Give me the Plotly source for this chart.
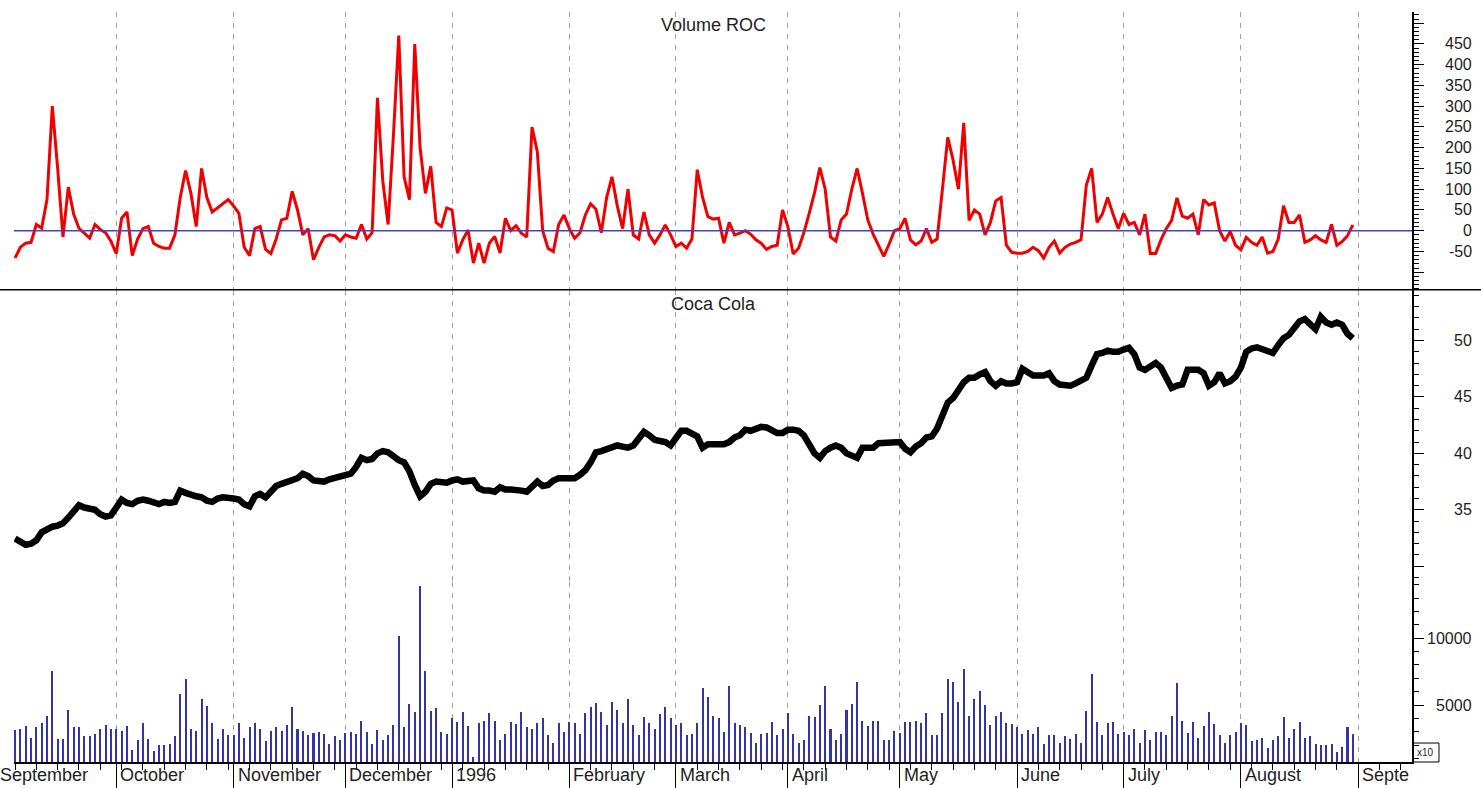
import plotly.graph_objects as go

# ---------------- data ----------------
month_labels = ["September", "October", "November", "December", "1996", "February",
                "March", "April", "May", "June", "July", "August", "Septe"]
month_start_idx = [-3.5, 19, 41, 62, 82, 104, 124, 145, 166, 188, 208, 230, 252]

roc = [
    -66, -40, -30, -28, 15, 6, 75, 300, 150, -15,
    105, 40, 6, -5, -18, 15, 3, -5, -25, -55,
    30, 45, -60, -20, 5, 10, -30, -38, -42, -42,
    -10, 80, 145, 90, 10, 150, 80, 45, 55, 65,
    75, 60, 42, -40, -60, 5, 10, -45, -55, -20,
    26, 30, 95, 50, -10, 5, -70, -40, -15, -10,
    -12, -25, -10, -15, -18, 15, -20, -5, 320, 120,
    15, 230, 470, 130, 75, 450, 200, 90, 155, 20,
    10, 55, 50, -54, -22, 2, -78, -30, -78, -30,
    -14, -54, 30, 0, 12, -6, -15, 250, 190, 0,
    -42, -50, 15, 38, 5, -18, -5, 38, 65, 52,
    -5, 80, 130, 60, 5, 100, -10, -20, 45, -10,
    -30, -10, 14, -10, -38, -30, -42, -20, 147, 80,
    34, 28, 30, -30, 20, -10, -6, 0, -8, -22,
    -30, -45, -38, -35, 50, 10, -56, -42, -5, 42,
    91, 152, 100, -15, -25, 26, 40, 100, 150, 90,
    26, -8, -35, -62, -32, 0, 5, 30, -22, -34,
    -25, 5, -28, -20, 100, 225, 170, 100, 260, 25,
    50, 40, -10, 20, 72, 80, -35, -52, -54, -54,
    -50, -40, -48, -66, -40, -25, -54, -40, -32, -28,
    -22, 110, 150, 20, 40, 80, 40, 5, 42, 15,
    20, -10, 40, -55, -55, -22, 5, 25, 79, 35,
    30, 40, -10, 75, 62, 67, 0, -25, -2, -35,
    -46, -16, -28, -35, -15, -54, -50, -20, 60, 20,
    20, 38, -28, -22, -12, -22, -28, 15, -35, -26,
    -12, 14,
]

price = [
    32.45, 32.1, 31.9, 32.0, 32.3, 33.0, 33.3, 33.5, 33.6, 33.8,
    34.3, 34.8, 35.4, 35.2, 35.1, 35.0, 34.6, 34.4, 34.5, 35.2,
    35.9, 35.6, 35.5, 35.8, 35.9, 35.8, 35.6, 35.5, 35.7, 35.6,
    35.7, 36.7, 36.5, 36.3, 36.2, 36.1, 35.8, 35.7, 36.0, 36.1,
    36.1, 36.0, 35.9, 35.5, 35.3, 36.2, 36.4, 36.1, 36.6, 37.1,
    37.3, 37.5, 37.6, 37.8, 38.2, 38.0, 37.6, 37.5, 37.5, 37.7,
    37.8, 38.0, 38.0, 38.2, 38.8, 39.6, 39.4, 39.5, 40.0, 40.2,
    40.1, 39.7, 39.4, 39.2, 38.4, 37.2, 36.2, 36.6, 37.3, 37.5,
    37.4, 37.4, 37.6, 37.7, 37.5, 37.5, 37.6, 36.9, 36.7, 36.7,
    36.6, 37.0, 36.8, 36.8, 36.8, 36.7, 36.6, 37.0, 37.5, 37.1,
    37.2, 37.6, 37.8, 37.8, 37.8, 37.8, 38.1, 38.5, 39.2, 40.1,
    40.2, 40.4, 40.6, 40.7, 40.6, 40.5, 40.7, 41.4, 41.9, 41.6,
    41.2, 41.1, 41.0, 40.7, 41.4, 42.0, 42.0, 41.8, 41.5, 40.5,
    40.8, 40.8, 40.8, 40.8, 41.0, 41.4, 41.6, 42.1, 42.0, 42.2,
    42.35, 42.3, 42.1, 41.8, 41.8, 42.1, 42.1, 42.0, 41.6, 40.8,
    40.0, 39.6, 40.2, 40.5, 40.7, 40.5, 40.0, 39.8, 39.6, 40.5,
    40.5, 40.5, 40.9, 40.9, 40.9, 40.9, 41.0, 40.4, 40.1, 40.6,
    40.9, 41.4, 41.5, 42.2, 43.2, 44.5, 44.9, 45.6, 46.3, 46.7,
    46.7, 47.0, 47.2, 46.4, 46.0, 46.4, 46.2, 46.2, 46.3, 47.5,
    47.2, 46.9, 46.9, 46.9, 47.1, 46.4, 46.1, 46.0, 46.0, 46.2,
    46.5, 46.7, 47.8, 48.8, 48.9, 49.1, 49.0, 49.0, 49.2, 49.35,
    48.8, 47.6, 47.4, 47.7, 48.0, 47.6, 46.8, 45.8, 46.0, 46.1,
    47.4, 47.4, 47.4, 47.1, 46.0, 46.3, 47.1, 46.2, 46.4, 46.8,
    47.6, 49.0, 49.3, 49.4, 49.2, 49.0, 48.9, 49.6, 50.2, 50.5,
    51.1, 51.7, 51.9, 51.5, 51.0, 52.1, 51.6, 51.4, 51.6, 51.4,
    50.6, 50.2,
]

volume = [
    # Sep 1995
    3134, 3209, 3458, 2537, 3333, 3632, 4204, 7562, 2438, 2438,
    4627, 3333, 3333, 2662, 2662, 2836, 3209, 3532, 3200,
    # Oct
    3209, 3060, 3458, 1642, 2388, 3657, 2463, 1592, 1990, 1990, 2065,
    2662, 5797, 6966, 3209, 3035, 5423, 4900, 3632, 2438, 3209, 2762,
    # Nov
    2762, 3657, 2537, 3333, 3632, 3209, 2289, 3035, 3333, 3035, 3532,
    4876, 3209, 3035, 2762, 2900, 2960, 2836, 2090, 2662, 2388,
    # Dec
    2900, 2960, 2836, 3781, 2960, 2090, 3134, 2388, 2762, 3532,
    10174, 3333, 5075, 4478, 13910, 7562, 4577, 4776, 2960, 2836,
    # Jan 1996
    4055, 3756, 4502, 3458, 1095, 3632, 3781, 4378, 3831, 2388, 2836,
    3706, 3582, 4478, 3333, 3209, 3632, 4005, 2786, 2164, 3632, 2960,
    # Feb
    3706, 3632, 2836, 4378, 4876, 5150, 4478, 3532, 5249, 4652,
    3632, 5448, 3532, 2762, 4080, 3632, 3209, 4304, 4876, 4005,
    # Mar
    3532, 3632, 2762, 2836, 3632, 6250, 5578, 4204, 4005, 2960, 6444,
    3632, 3532, 3333, 2910, 2164, 2836, 2910, 3706, 2762, 3209,
    # Apr
    4378, 2836, 2164, 2388, 4204, 4080, 5000, 6444, 3209, 2388, 2836,
    4652, 5075, 6692, 3781, 3458, 3781, 3781, 2388, 2388, 3060,
    # May
    2910, 3706, 3706, 3781, 3632, 4378, 2762, 2762, 4378, 6966, 6692,
    5249, 7686, 4154, 5448, 6021, 5025, 3532, 4204, 4502, 3632, 3582,
    # Jun
    3383, 2836, 3134, 2836, 3333, 2090, 2762, 2762, 2164, 2662,
    2463, 2836, 2164, 4527, 7338, 3706, 2762, 3657, 3756, 2836,
    # Jul
    3010, 2762, 3209, 2164, 3134, 2388, 2960, 3010, 2762, 4204, 6617,
    3831, 2910, 3706, 2537, 3458, 4502, 3582, 2762, 2164, 2762, 2960,
    # Aug
    3632, 3532, 2314, 2388, 2537, 1766, 2413, 2662, 4080, 2537, 3209,
    3756, 2537, 2662, 2090, 2040, 2040, 2090, 1468, 1841, 3333, 2836,
]

roc_ticks = [-50, 0, 50, 100, 150, 200, 250, 300, 350, 400, 450]
price_ticks = [35, 40, 45, 50]
vol_ticks = [5000, 10000]

assert len(roc) == len(price) == len(volume), (len(roc), len(price), len(volume))
idx = list(range(len(price)))

# ---------------- layout constants ----------------
X0, X1 = -0.19, 262.1
FONT = "Liberation Sans, Arial, sans-serif"
TXT = "#1e1e1e"
D_ROC = [0.6298, 1.0]
D_PRICE = [0.2397, 0.6298]
D_VOL = [0.0, 0.2397]
grid_vals = month_start_idx[1:]
small_ticks = [v for v in range(0, 262, 4) if v not in grid_vals]


def xpaper(v):
    return (v - X0) / (X1 - X0)


fig = go.Figure()
fig.add_trace(go.Scatter(x=idx, y=roc, xaxis="x", yaxis="y", mode="lines",
                         line=dict(color="#f00000", width=3), hoverinfo="skip"))
fig.add_trace(go.Scatter(x=idx, y=price, xaxis="x2", yaxis="y2", mode="lines",
                         line=dict(color="#000000", width=6.5), hoverinfo="skip"))
fig.add_trace(go.Bar(x=idx, y=volume, xaxis="x3", yaxis="y3", width=0.38,
                     marker=dict(color="#3434a8", line=dict(width=0)), hoverinfo="skip"))

xcommon = dict(range=[X0, X1], tickmode="array", tickvals=grid_vals, showgrid=True,
               gridcolor="#a0a0a0", gridwidth=1, griddash="5px,6px",
               showticklabels=False, zeroline=False, fixedrange=True)

ycommon = dict(side="right", showgrid=False, zeroline=False, showline=True,
               linecolor="black", linewidth=1.5, ticks="outside", tickcolor="black",
               ticklen=10, tickwidth=1, showticklabels=False, tickmode="linear", tick0=0,
               fixedrange=True)

fig.update_layout(
    width=1481, height=800, autosize=False,
    margin=dict(l=14, r=69, t=12.2, b=25.4, pad=0),
    paper_bgcolor="white", plot_bgcolor="white", showlegend=False,
    bargap=0, hovermode=False,
    xaxis=dict(**xcommon, anchor="y", domain=[0, 1], ticks="", showline=False),
    xaxis2=dict(**xcommon, anchor="y2", domain=[0, 1], ticks="", showline=False),
    xaxis3=dict(**xcommon, anchor="y3", domain=[0, 1], ticks="outside", ticklen=26,
                tickcolor="black", tickwidth=1, showline=True, linecolor="black",
                linewidth=1.5,
                minor=dict(tickmode="array", tickvals=small_ticks, ticks="outside",
                           ticklen=6, tickcolor="black", tickwidth=1, showgrid=False)),
    yaxis=dict(**ycommon, anchor="x", domain=D_ROC, range=[-142, 527], dtick=50,
               minor=dict(dtick=10, tick0=0, ticks="outside", ticklen=5,
                          tickcolor="black", showgrid=False)),
    yaxis2=dict(**ycommon, anchor="x2", domain=D_PRICE, range=[28.58, 54.51], dtick=5,
                minor=dict(dtick=1, tick0=0, ticks="outside", ticklen=5,
                           tickcolor="black", showgrid=False)),
    yaxis3=dict(**ycommon, anchor="x3", domain=D_VOL, range=[746, 14179], dtick=5000,
                minor=dict(dtick=1000, tick0=0, ticks="outside", ticklen=5,
                           tickcolor="black", showgrid=False)),
)

shapes = [
    # zero line of the ROC panel
    dict(type="line", xref="x domain", yref="y", x0=0, x1=1, y0=0, y1=0,
         line=dict(color="#4343c4", width=1.5), layer="above"),
    # panel separator
    dict(type="line", xref="paper", yref="paper", x0=-0.02, x1=1.06,
         y0=D_ROC[0], y1=D_ROC[0], line=dict(color="black", width=1.5)),
    # x10 box
    dict(type="rect", xref="paper", yref="paper", x0=1.0007, x1=1.0193, y0=0, y1=0.0253,
         line=dict(color="black", width=1)),
]

ann = []
ann.append(dict(text="Volume ROC", xref="paper", yref="paper", x=0.5, y=0.9827,
                xanchor="center", yanchor="middle", showarrow=False,
                font=dict(family=FONT, size=18, color=TXT)))
ann.append(dict(text="Coca Cola", xref="paper", yref="paper", x=0.5, y=0.6112,
                xanchor="center", yanchor="middle", showarrow=False,
                font=dict(family=FONT, size=18, color=TXT)))
LBLX = 1.0443
for v in roc_ticks:
    ann.append(dict(text=str(v), xref="paper", yref="y", x=LBLX, y=v, xanchor="right",
                    yanchor="middle", showarrow=False,
                    font=dict(family=FONT, size=16, color=TXT)))
for v in price_ticks:
    ann.append(dict(text=str(v), xref="paper", yref="y2", x=LBLX, y=v, xanchor="right",
                    yanchor="middle", showarrow=False,
                    font=dict(family=FONT, size=16, color=TXT)))
for v in vol_ticks:
    ann.append(dict(text=str(v), xref="paper", yref="y3", x=LBLX, y=v, xanchor="right",
                    yanchor="middle", showarrow=False,
                    font=dict(family=FONT, size=16, color=TXT)))
for lab, v in zip(month_labels, month_start_idx):
    ann.append(dict(text=lab, xref="paper", yref="paper", x=xpaper(v), y=-0.0173,
                    xanchor="left", yanchor="middle", xshift=2, showarrow=False,
                    font=dict(family=FONT, size=18, color=TXT)))
ann.append(dict(text="x10", xref="paper", yref="paper", x=1.01, y=0.0126,
                xanchor="center", yanchor="middle", showarrow=False,
                font=dict(family=FONT, size=10, color=TXT)))

fig.update_layout(shapes=shapes, annotations=ann)
fig.write_html(
    "out.html",
    config={"displayModeBar": False, "staticPlot": True},
    post_script="document.body.style.margin='0';document.body.style.overflow='hidden';",
)
